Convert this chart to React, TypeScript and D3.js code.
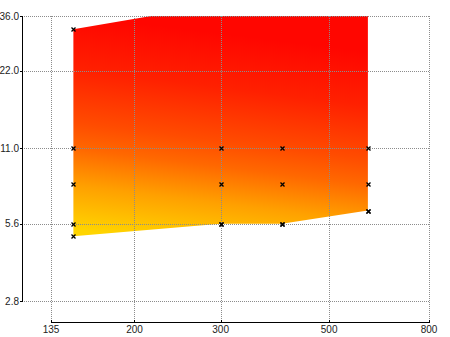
import React from "react";
import * as d3 from "d3";

const xValues = [150, 300, 400, 600];
const upperValues = [32, 40, 44, 48];
const series11 = [11, 11, 11, 11];
const series8 = [8, 8, 8, 8];
const series56 = [5.6, 5.6, 5.6, 6.3];
const lowerValues = [5.0, 5.6, 5.6, 6.3];

const xTicks = [135, 200, 300, 500, 800];
const yTicks = [2.8, 5.6, 11.0, 22.0, 36.0];

const W = 450;
const H = 337;

export default function App() {
  const x = d3.scaleLog().domain([135, 800]).range([51, 429]);
  const y = d3.scaleLog().domain([2.8, 36]).range([301, 16]);
  const plotLeft = 22;
  const plotRight = x(800);
  const plotTop = y(36);
  const axisY = 322;

  const pts: [number, number][] = [
    ...xValues.map((v, i) => [x(v), y(upperValues[i])] as [number, number]),
    ...xValues
      .map((v, i) => [x(v), y(lowerValues[i])] as [number, number])
      .reverse(),
  ];
  const area = d3.line()(pts) + "Z";

  const markerSeries = [upperValues, series11, series8, series56, lowerValues];
  const markers: [number, number][] = [];
  markerSeries.forEach((s) =>
    s.forEach((v, i) => markers.push([x(xValues[i]), y(v)]))
  );

  const gx1 = x(155);
  const gy1 = y(36);
  const gx2 = x(137);
  const gy2 = y(5.4);

  const font = "'Liberation Sans Narrow', 'Liberation Sans', Arial, sans-serif";

  return (
    <svg
      width={W}
      height={H}
      style={{ position: "absolute", left: 0, top: 0, background: "#fff" }}
    >
      <defs>
        <linearGradient
          id="fillGrad"
          gradientUnits="userSpaceOnUse"
          x1={gx1}
          y1={gy1}
          x2={gx2}
          y2={gy2}
        >
          <stop offset="0" stopColor="#FF0600" />
          <stop offset="0.25" stopColor="#FF2000" />
          <stop offset="0.5" stopColor="#FF4C00" />
          <stop offset="0.62" stopColor="#FF6800" />
          <stop offset="0.79" stopColor="#FFA000" />
          <stop offset="1" stopColor="#FFD500" />
        </linearGradient>
        <clipPath id="plotClip">
          <rect
            x={plotLeft}
            y={plotTop}
            width={plotRight - plotLeft}
            height={axisY - plotTop}
          />
        </clipPath>
      </defs>

      <g clipPath="url(#plotClip)">
        <path d={area} fill="url(#fillGrad)" stroke="none" />
      </g>

      {/* grid */}
      <g stroke="#8c8c8c" strokeWidth={1} strokeDasharray="1,1" shapeRendering="crispEdges">
        {yTicks.map((t) => (
          <line
            key={"h" + t}
            x1={plotLeft}
            x2={plotRight + 0.5}
            y1={Math.round(y(t)) + 0.5}
            y2={Math.round(y(t)) + 0.5}
          />
        ))}
        {xTicks.map((t) => (
          <line
            key={"v" + t}
            x1={Math.round(x(t)) + 0.5}
            x2={Math.round(x(t)) + 0.5}
            y1={plotTop}
            y2={axisY}
          />
        ))}
      </g>

      {/* markers */}
      <g clipPath="url(#plotClip)" stroke="#000" strokeWidth={1.3}>
        {markers.map(([mx, my], i) => {
          const cx = Math.round(mx) + 0.5;
          const cy = Math.round(my) + 0.5;
          return (
            <path
              key={i}
              d={`M${cx - 2},${cy - 2}L${cx + 2},${cy + 2}M${cx - 2},${cy + 2}L${cx + 2},${cy - 2}`}
            />
          );
        })}
      </g>

      {/* y axis */}
      <g shapeRendering="crispEdges">
        <line
          x1={plotLeft + 0.5}
          x2={plotLeft + 0.5}
          y1={y(36)}
          y2={y(2.8) + 1}
          stroke="#000"
          strokeWidth={1.5}
        />
        {yTicks.map((t) => (
          <line
            key={"yt" + t}
            x1={plotLeft - 2}
            x2={plotLeft}
            y1={Math.round(y(t)) + 0.5}
            y2={Math.round(y(t)) + 0.5}
            stroke="#000"
          />
        ))}
      </g>
      {yTicks.map((t) => (
        <text
          key={"yl" + t}
          x={plotLeft - 3}
          y={y(t)}
          dy="0.35em"
          textAnchor="end"
          fontFamily={font}
          fontSize={10}
          fill="#222"
        >
          {d3.format(".1f")(t)}
        </text>
      ))}

      {/* x axis */}
      <g shapeRendering="crispEdges">
        <line
          x1={x(135)}
          x2={x(800) + 1}
          y1={axisY + 0.5}
          y2={axisY + 0.5}
          stroke="#000"
          strokeWidth={1.5}
        />
        {xTicks.map((t) => (
          <line
            key={"xt" + t}
            x1={Math.round(x(t)) + 0.5}
            x2={Math.round(x(t)) + 0.5}
            y1={axisY - 2}
            y2={axisY}
            stroke="#000"
          />
        ))}
      </g>
      {xTicks.map((t) => (
        <text
          key={"xl" + t}
          x={x(t)}
          y={axisY + 11}
          textAnchor="middle"
          fontFamily={font}
          fontSize={10}
          fill="#222"
        >
          {String(t)}
        </text>
      ))}
    </svg>
  );
}
